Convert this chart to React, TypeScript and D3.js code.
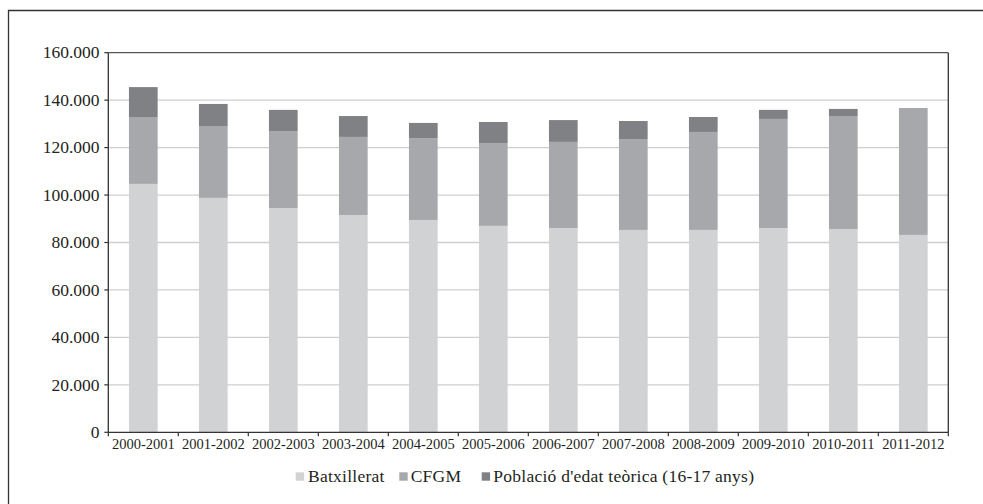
import React from "react";
import * as d3 from "d3";

const categories = [
  "2000-2001", "2001-2002", "2002-2003", "2003-2004", "2004-2005", "2005-2006",
  "2006-2007", "2007-2008", "2008-2009", "2009-2010", "2010-2011", "2011-2012",
];
const batxillerat = [104700, 98800, 94500, 91600, 89500, 87000, 86100, 85300, 85300, 86100, 85700, 83200];
const cfgm = [28200, 30300, 32500, 32900, 34500, 34900, 36300, 38300, 41300, 46000, 47600, 53500];
const poblacio = [12600, 9300, 8900, 8800, 6400, 8900, 9200, 7600, 6300, 3800, 3000, 0];
const seriesNames = ["Batxillerat", "CFGM", "Població d'edat teòrica (16-17 anys)"];
const yTicks = [0, 20000, 40000, 60000, 80000, 100000, 120000, 140000, 160000];

const colors = ["#d1d2d4", "#a7a8ab", "#808184"];
const FONT = "Liberation Serif";
const TEXT = "#231f20";

const W = 983, H = 504;
const plot = { left: 108.3, right: 948.3, top: 52.7, bottom: 432.3 };

export default function App() {
  const x = d3.scaleBand<string>().domain(categories).range([plot.left, plot.right]).padding(0);
  const y = d3.scaleLinear().domain([0, 160000]).range([plot.bottom, plot.top]);
  const locale = d3.formatLocale({ decimal: ",", thousands: ".", grouping: [3], currency: ["", ""] });
  const fmt = locale.format(",d");

  const rows = categories.map((c, i) => ({ cat: c, a: batxillerat[i], b: cfgm[i], c: poblacio[i] }));
  const stack = d3.stack<any>().keys(["a", "b", "c"])(rows);

  const bw = x.bandwidth() * 0.41;

  const legendItems = [
    { name: seriesNames[0], x: 295.7, tx: 308 },
    { name: seriesNames[1], x: 399.3, tx: 410.7 },
    { name: seriesNames[2], x: 481.7, tx: 493.3 },
  ];

  return (
    <svg width={W} height={H} style={{ position: "absolute", left: 0, top: 0, background: "#fff" }}>
      {/* outer frame (cropped on right and bottom) */}
      <line x1={8} y1={10.5} x2={W} y2={10.5} stroke="#333" strokeWidth={1.3} />
      <line x1={8.5} y1={10} x2={8.5} y2={H} stroke="#333" strokeWidth={1.3} />

      {/* gridlines */}
      {yTicks.slice(1, -1).map((t) => (
        <line key={t} x1={plot.left} x2={plot.right} y1={y(t)} y2={y(t)} stroke="#cfcfcf" strokeWidth={1.3} />
      ))}

      {/* bars */}
      {stack.map((s, si) => (
        <g key={si} fill={colors[si]}>
          {s.map((d, i) => {
            const h = y(d[0]) - y(d[1]);
            if (h <= 0) return null;
            return (
              <rect
                key={i}
                x={(x(categories[i]) as number) + x.bandwidth() / 2 - bw / 2}
                y={y(d[1])}
                width={bw}
                height={h}
              />
            );
          })}
        </g>
      ))}

      {/* plot border top and right */}
      <line x1={plot.left} x2={plot.right} y1={plot.top} y2={plot.top} stroke="#555" strokeWidth={1.3} />
      <line x1={plot.right} x2={plot.right} y1={plot.top} y2={plot.bottom} stroke="#333" strokeWidth={1.3} />

      {/* y axis */}
      <line x1={plot.left} x2={plot.left} y1={plot.top} y2={plot.bottom} stroke="#333" strokeWidth={1.3} />
      {yTicks.map((t) => (
        <g key={t}>
          <line x1={plot.left - 4} x2={plot.left} y1={y(t)} y2={y(t)} stroke="#333" strokeWidth={1.2} />
          <text
            x={99.5}
            y={y(t) + 5.7}
            textAnchor="end"
            style={{ fontFamily: FONT, fontSize: 17.5 }}
            fill={TEXT}
          >
            {fmt(t)}
          </text>
        </g>
      ))}

      {/* x axis */}
      <line x1={plot.left} x2={plot.right} y1={plot.bottom} y2={plot.bottom} stroke="#333" strokeWidth={1.3} />
      {categories.map((c, i) => (
        <line
          key={"t" + i}
          x1={x(c) as number}
          x2={x(c) as number}
          y1={plot.bottom}
          y2={plot.bottom + 4}
          stroke="#333"
          strokeWidth={1.2}
        />
      ))}
      <line x1={plot.right} x2={plot.right} y1={plot.bottom} y2={plot.bottom + 4} stroke="#333" strokeWidth={1.2} />
      {categories.map((c) => (
        <text
          key={c}
          x={(x(c) as number) + x.bandwidth() / 2}
          y={449}
          textAnchor="middle"
          style={{ fontFamily: FONT, fontSize: 14.5 }}
          fill={TEXT}
        >
          {c}
        </text>
      ))}

      {/* legend */}
      {legendItems.map((l, i) => (
        <g key={l.name}>
          <rect x={l.x} y={472.3} width={8.4} height={8.4} fill={colors[i]} />
          <text x={l.tx} y={481.5} style={{ fontFamily: FONT, fontSize: 17.5, letterSpacing: 0.25 }} fill={TEXT}>
            {l.name}
          </text>
        </g>
      ))}
    </svg>
  );
}
